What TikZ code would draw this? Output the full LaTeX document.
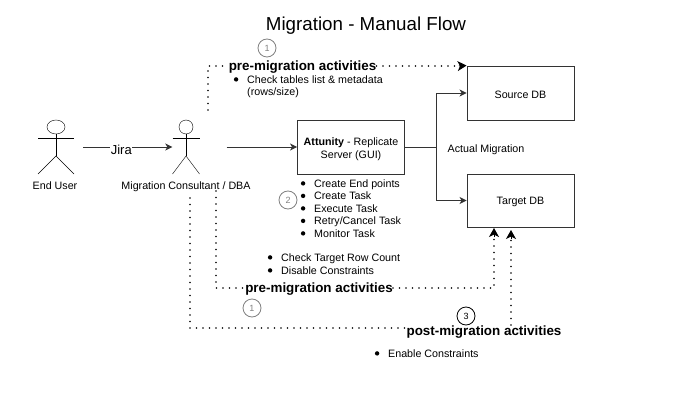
\documentclass[tikz,border=0pt]{standalone}
\usepackage{fontspec}
\setmainfont{Liberation Sans}
\usetikzlibrary{arrows.meta,shapes.geometric}
\definecolor{linegray}{HTML}{333333}
\definecolor{ringgray}{HTML}{808080}
\tikzset{%
   txt/.style={inner sep=0mm, yshift=-1.5pt, text height=7.7pt, text depth=2.3pt, font=\fontsize{10.7}{12}\selectfont},
   dbbox/.style={draw=linegray, line width=.9pt, minimum width=107pt, minimum height=54pt, inner sep=0mm, align=center, font=\fontsize{10.7}{13}\selectfont},
   actor/.style={inner sep=0mm, minimum height=54pt},
   head/.style={ellipse, draw=black, inner sep=0mm},
   heading/.style={inner sep=0mm, text height=11pt, text depth=2pt, font=\fontsize{13.4}{15}\selectfont\bfseries},
   ring/.style={circle, draw=ringgray, line width=.8pt, text=ringgray, minimum size=18pt, inner sep=0mm, font=\fontsize{9}{10}\selectfont},
   dots/.style={line width=1.7pt, line cap=round, dash pattern=on 0pt off 6.5pt, draw=black},
   flow/.style={draw=linegray, line width=.9pt, -{Stealth[length=7pt, width=7pt, inset=2pt]}},
   bigtip/.style={-{Stealth[length=9pt, width=10pt, inset=2.5pt]}},
}
\newcommand\dn[2][1.5pt]{\raisebox{-#1}[\height][\depth]{#2}}
\newcommand\sdot{\tikz[baseline=-3.8pt]\fill (0,0) circle (2.2pt);}
\newcommand\bitem[1]{\makebox[13.3pt][l]{\sdot}#1}
\newcommand\stickman[5]{%
   \node[actor, minimum width=2*#3] (#1) at (#2,147) {};
   \node[head, minimum width=#4, minimum height=#5] (#1head) at (#2,127) {};
   \draw (#1head.south) -- (#2,156);
   \draw (#2-#3,138) -- (#2+#3,138);
   \draw (#2-#3,174) -- (#2,156) -- (#2+#3,174);
}

\begin{document}
\begin{tikzpicture}[x=1pt, y=-1pt]
      \useasboundingbox (0,0) rectangle (688,401);
      \node[inner sep=0mm, font=\fontsize{18.75}{20}\selectfont] (title) at (366,26) {Migration - Manual Flow};
      % actors
      \stickman{user}{56}{18}{18pt}{14pt}
      \stickman{dba}{186}{13.5}{14pt}{14pt}
      \node[txt] (userlabel) at (55,185.5) {End User};
      \node[txt] (dbalabel) at (186,185.5) {Migration Consultant / DBA};
      % boxes
      \node[dbbox, minimum height=54pt] (attunity) at (351,147) {\dn[2pt]{\textbf{Attunity} - Replicate}\\\dn[2pt]{Server (GUI)}};
      \node[dbbox] (source) at (520.5,93) {\dn{Source DB}};
      \node[dbbox, minimum height=53pt] (target) at (520.5,200.5) {\dn[1pt]{Target DB}};
      % solid connectors
      \draw[flow, shorten <=9pt] (user) -- (dba) node[pos=.48, fill=white, inner sep=.5pt, yshift=-3pt, font=\fontsize{13}{14}\selectfont] (jira) {Jira};
      \draw[flow, shorten <=27pt] (dba) -- (attunity);
      \coordinate (fork) at (436,147);
      \draw[draw=linegray, line width=.9pt] (attunity) -- (fork);
      \draw[flow] (fork) |- (source);
      \draw[flow] (fork) |- (target);
      \node[txt] (actual) at (486,148) {Actual Migration};
      % top dotted path
      \node[heading] (premigtop) at (302.5,66) {pre-migration activities};
      \coordinate (topstart) at (208,110);
      \draw[dots] (topstart) |- (premigtop.west);
      \draw[dots] (premigtop.east) -- (460,66);
      \draw[line width=1pt, bigtip, draw=black] (459,66) -- (source.north west);
      \node[ring] (stepa) at (267,48) {1};
      \node[txt, anchor=west] (tablesa) at (233.7,79) {\bitem{Check tables list \& metadata}};
      \node[txt, anchor=west] (tablesb) at (247,91) {(rows/size)};
      % task list
      \foreach \name/\ypos/\task in {ta/183/{Create End points}, tb/195.5/{Create Task}, tc/208/{Execute Task}, td/220.5/{Retry/Cancel Task}, te/233/{Monitor Task}}{
         \node[txt, anchor=west] (\name) at (300.7,\ypos) {\bitem{\task}};
      }
      \node[ring] (stepb) at (288,200) {2};
      \node[txt, anchor=west] (checka) at (267.7,257) {\bitem{Check Target Row Count}};
      \node[txt, anchor=west] (checkb) at (267.7,270) {\bitem{Disable Constraints}};
      % bottom dotted paths
      \node[heading] (premigbot) at (319,288) {pre-migration activities};
      \coordinate (midstart) at (216,191);
      \coordinate (midend) at (494,228);
      \draw[dots] (midstart) |- (premigbot.west);
      \draw[dots] (premigbot.east) -| (494,238);
      \draw[line width=1pt, bigtip, draw=black] (494,237) -- (midend);
      \node[ring] (stepc) at (252,308) {1};
      \node[heading] (postmig) at (484,331) {post-migration activities};
      \coordinate (poststart) at (190,198);
      \coordinate (postend) at (511,230);
      \draw[dots] (poststart) |- ([yshift=3pt]postmig.west);
      \draw[dots] (511,325) -- (511,240);
      \draw[line width=1pt, bigtip, draw=black] (511,239) -- (postend);
      \node[ring, draw=black, text=black] (stepd) at (466,316) {3};
      \node[txt, anchor=west] (enable) at (374.7,353) {\bitem{Enable Constraints}};
\end{tikzpicture}
\end{document}
